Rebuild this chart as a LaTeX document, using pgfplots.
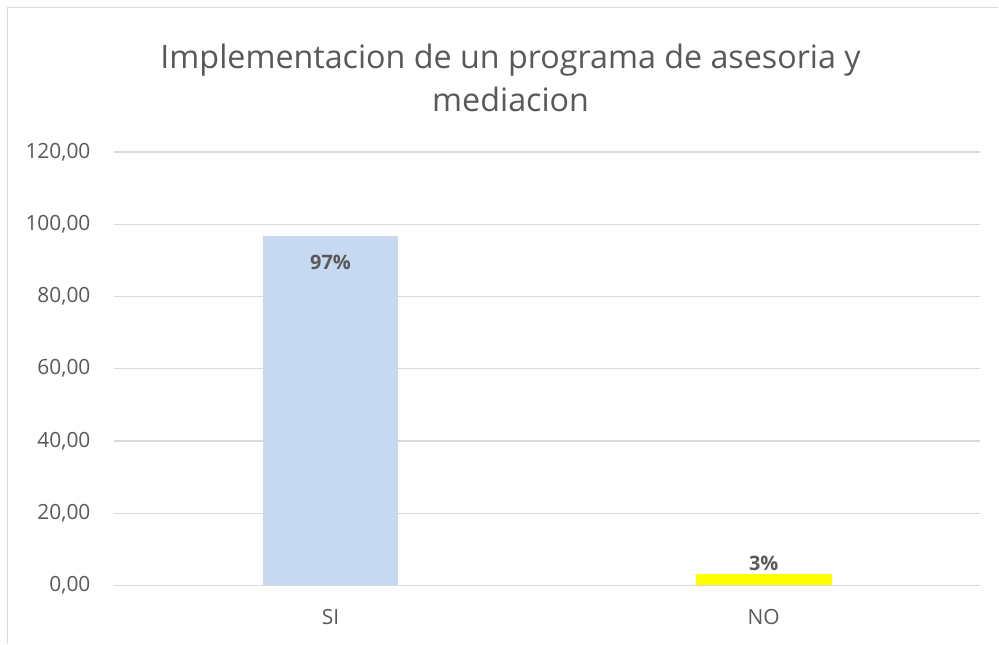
\documentclass[border=0pt]{standalone}
\usepackage{fontspec}
\setmainfont{Open Sans}
\usepackage{pgfplots}
\pgfplotsset{compat=1.18}
\definecolor{txt}{HTML}{595959}
\definecolor{gridc}{HTML}{D9D9D9}
\definecolor{barblue}{HTML}{C6D9F1}
\definecolor{bary}{HTML}{FFFF00}
\begin{document}
\begin{tikzpicture}
\fill[white] (0,0) rectangle (999bp,-644bp);
\draw[gridc, line width=1.5bp] (7.5bp,-644bp) -- (7.5bp,-7.5bp) -- (999bp,-7.5bp);
\node[align=center, text=txt, font=\fontsize{32.4}{43}\selectfont] at (511bp,-78bp) {Implementacion de un programa de asesoria y\\mediacion};
\begin{axis}[
  at={(114bp,-586bp)}, anchor=south west,
  scale only axis, width=867bp, height=434bp,
  xmin=-0.5, xmax=1.5, ymin=0, ymax=120,
  ytick={0,20,...,120}, xtick={0,1}, xticklabels={SI,NO},
  axis line style={draw=none},
  ymajorgrids, xmajorgrids=false, grid style={draw=gridc, line width=1.3bp},
  major tick length=0pt,
  tick label style={text=txt, font=\fontsize{21}{25}\selectfont},
  yticklabel style={/pgf/number format/.cd, fixed, fixed zerofill, precision=2, use comma, assume math mode=true},
  yticklabel shift=20bp, xticklabel shift=20bp,
  ybar, bar width=136bp,
  point meta=explicit symbolic,
  clip=false,
]
\addplot[fill=barblue, draw=none, bar shift=0pt,
  nodes near coords, nodes near coords align={below},
  every node near coord/.append style={text=txt, font=\fontsize{20}{24}\selectfont\bfseries, yshift=-16bp}]
  coordinates {(0,96.77) [97\%]};
\addplot[fill=bary, draw=none, bar shift=0pt,
  nodes near coords, nodes near coords align={above},
  every node near coord/.append style={text=txt, font=\fontsize{20}{24}\selectfont\bfseries, yshift=0bp}]
  coordinates {(1,3.23) [3\%]};
\draw[gridc, line width=1.3bp] (axis cs:-0.5,0) -- (axis cs:1.5,0);
\end{axis}
\end{tikzpicture}
\end{document}
